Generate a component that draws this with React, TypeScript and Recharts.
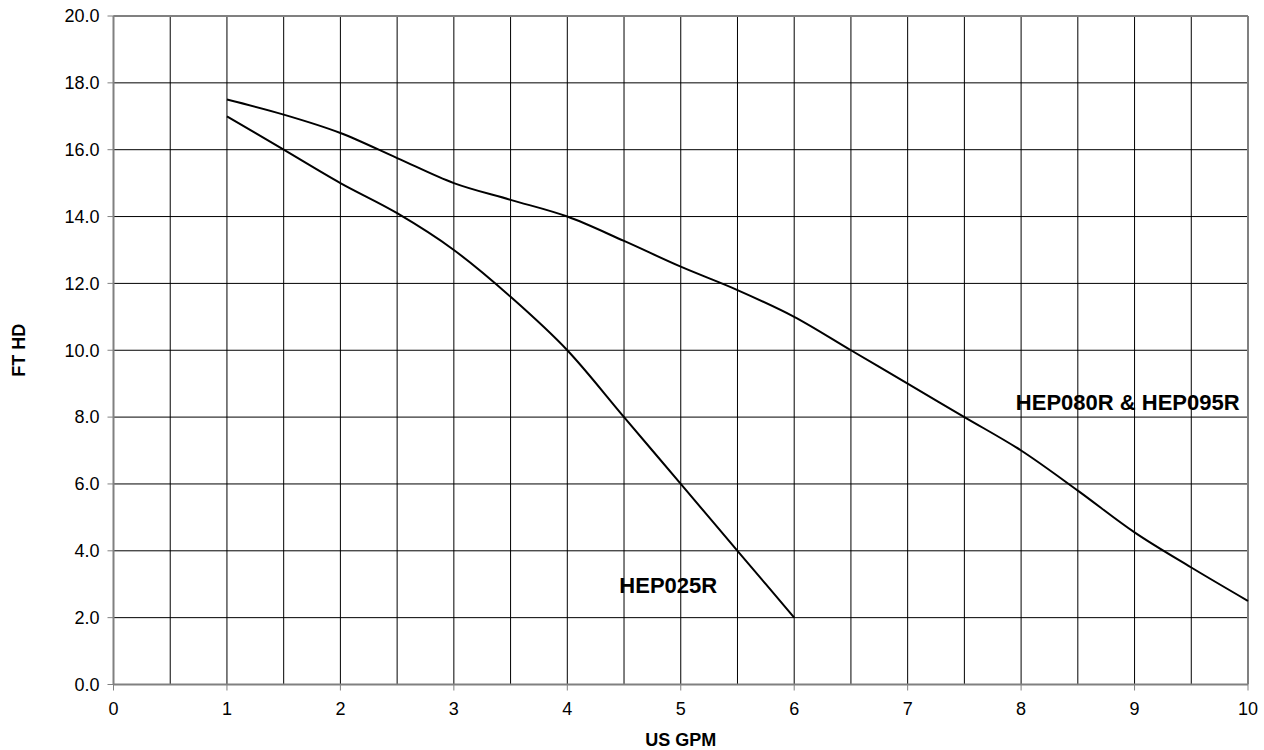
import { LineChart, Line, XAxis, YAxis, CartesianGrid, ReferenceLine, ReferenceDot } from 'recharts'

// pump curves (US GPM vs FT HD)
const hep080Gpm = [1, 1.5, 2, 2.5, 3, 3.5, 4, 4.5, 5, 5.5, 6, 6.5, 7, 7.5, 8, 8.5, 9, 9.5, 10]
const hep080Head = [17.5, 17.05, 16.5, 15.75, 15.0, 14.5, 14.0, 13.27, 12.5, 11.8, 11.0, 10.0, 9.0, 8.0, 7.0, 5.8, 4.55, 3.5, 2.5]

const hep025Gpm = [1, 1.5, 2, 2.5, 3, 3.5, 4, 4.5, 5, 5.5, 6]
const hep025Head = [17.0, 16.0, 15.0, 14.1, 13.0, 11.6, 10.0, 8.0, 6.0, 4.0, 2.0]

const xTicks = [0, 1, 2, 3, 4, 5, 6, 7, 8, 9, 10]
const yTicks = [0, 2, 4, 6, 8, 10, 12, 14, 16, 18, 20]
const gridX = [0.5, 1, 1.5, 2, 2.5, 3, 3.5, 4, 4.5, 5, 5.5, 6, 6.5, 7, 7.5, 8, 8.5, 9, 9.5]

const hep080Data = hep080Gpm.map((gpm, i) => ({ gpm, head: hep080Head[i] }))
const hep025Data = hep025Gpm.map((gpm, i) => ({ gpm, head: hep025Head[i] }))

const FONT = '"Liberation Sans", Arial, sans-serif'
const FRAME = '#808080'

const tagStyle = { fill: '#000', fontSize: 22, fontWeight: 'bold' as const }

export default function App() {
  return (
    <div style={{ position: 'absolute', left: 0, top: 0 }}>
      <LineChart
        width={1264}
        height={750}
        margin={{ top: 16, right: 16, bottom: 0, left: 0 }}
        style={{ fontFamily: FONT }}
      >
        <CartesianGrid stroke="#000" strokeWidth={1} horizontal vertical={false} />
        {gridX.map((v) => (
          <ReferenceLine key={v} x={v} stroke="#000" strokeWidth={1} />
        ))}
        <ReferenceLine y={20} stroke={FRAME} strokeWidth={2} />
        <ReferenceLine x={10} stroke={FRAME} strokeWidth={2} />
        <XAxis
          dataKey="gpm"
          type="number"
          domain={[0, 10]}
          ticks={xTicks}
          allowDuplicatedCategory={false}
          height={65.5}
          tickSize={6}
          tickMargin={12}
          tick={{ fill: '#000', fontSize: 18 }}
          tickLine={{ stroke: FRAME }}
          axisLine={{ stroke: FRAME, strokeWidth: 2 }}
          label={{ value: 'US GPM', position: 'insideBottom', offset: 4, fill: '#000', fontSize: 18, fontWeight: 'bold' }}
        />
        <YAxis
          type="number"
          domain={[0, 20]}
          ticks={yTicks}
          width={113.5}
          tickSize={6}
          tickMargin={8}
          tickFormatter={(v: number) => v.toFixed(1)}
          tick={{ fill: '#000', fontSize: 18 }}
          tickLine={{ stroke: FRAME }}
          axisLine={{ stroke: FRAME, strokeWidth: 2 }}
          label={{
            value: 'FT HD',
            angle: -90,
            position: 'insideLeft',
            offset: 19,
            fill: '#000',
            fontSize: 18,
            fontWeight: 'bold',
            style: { textAnchor: 'middle' },
          }}
        />
        <Line
          data={hep080Data}
          dataKey="head"
          type="monotone"
          stroke="#000"
          strokeWidth={2}
          dot={false}
          isAnimationActive={false}
        />
        <Line
          data={hep025Data}
          dataKey="head"
          type="monotone"
          stroke="#000"
          strokeWidth={2}
          dot={false}
          isAnimationActive={false}
        />
        <ReferenceDot
          x={8.94}
          y={8.45}
          r={0}
          fill="none"
          stroke="none"
          label={{ value: 'HEP080R & HEP095R', position: 'center', ...tagStyle }}
        />
        <ReferenceDot
          x={4.89}
          y={2.98}
          r={0}
          fill="none"
          stroke="none"
          label={{ value: 'HEP025R', position: 'center', ...tagStyle }}
        />
      </LineChart>
    </div>
  )
}
